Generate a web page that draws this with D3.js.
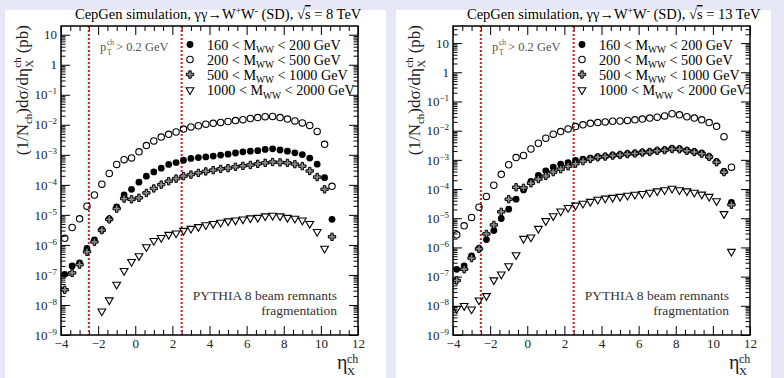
<!DOCTYPE html>
<html>
<head>
<meta charset="utf-8">
<script src="https://cdn.jsdelivr.net/npm/d3@7"></script>
<style>
  body { margin: 0; background: #e7e7f7; }
  svg { display: block; font-family: "Liberation Serif", "Times New Roman", serif; }
</style>
</head>
<body>
<svg id="chart" width="784" height="378"></svg>
<script>
// pseudorapidity bin centres
const eta = [-3.8,-3.4,-3.0,-2.6,-2.2,-1.8,-1.4,-1.0,-0.6,-0.2,0.2,0.6,1.0,1.4,1.8,2.2,2.6,3.0,3.4,3.8,4.2,4.6,5.0,5.4,5.8,6.2,6.6,7.0,7.4,7.8,8.2,8.6,9.0,9.4,9.8,10.2,10.6,11.0];

// sqrt(s) = 8 TeV
const m160_8 = [1.05e-7,2.0e-7,2.5e-7,7.6e-7,1.48e-6,3.2e-6,7.4e-6,1.86e-5,4.6e-5,7.1e-5,1.23e-4,1.95e-4,2.7e-4,3.6e-4,4.8e-4,5.5e-4,6.6e-4,7.6e-4,8.1e-4,8.5e-4,9.1e-4,9.8e-4,1.05e-3,1.15e-3,1.26e-3,1.32e-3,1.38e-3,1.51e-3,1.58e-3,1.45e-3,1.32e-3,1.17e-3,1.02e-3,7.8e-4,4.9e-4,1.74e-4,7.1e-6,null];
const m200_8 = [1.66e-6,3.8e-6,7.4e-6,1.95e-5,4.6e-5,1.05e-4,2.4e-4,4.8e-4,6.9e-4,7.9e-4,1.26e-3,2.04e-3,2.9e-3,3.9e-3,4.8e-3,5.75e-3,7.2e-3,8.5e-3,9.3e-3,1.05e-2,1.12e-2,1.2e-2,1.29e-2,1.38e-2,1.48e-2,1.62e-2,1.74e-2,1.86e-2,1.9e-2,1.74e-2,1.55e-2,1.35e-2,1.15e-2,9.5e-3,6.0e-3,2.24e-3,8.9e-5,null];
const m500_8 = [3.2e-8,1.17e-7,2.2e-7,5.9e-7,1.26e-6,3.1e-6,7.1e-6,1.62e-5,3.5e-5,3.3e-5,3.7e-5,5.4e-5,7.6e-5,1.02e-4,1.32e-4,1.62e-4,1.95e-4,2.2e-4,2.5e-4,2.8e-4,3.1e-4,3.4e-4,3.6e-4,4.0e-4,4.3e-4,4.6e-4,5.0e-4,5.4e-4,5.75e-4,5.6e-4,5.4e-4,4.9e-4,4.2e-4,2.9e-4,1.82e-4,7.1e-5,1.86e-6,null];
const m1000_8 = [null,null,null,null,null,6.2e-9,1.45e-8,4.8e-8,1.38e-7,2.75e-7,4.3e-7,8.5e-7,1.38e-6,1.74e-6,2.2e-6,2.45e-6,3.0e-6,3.5e-6,4.0e-6,4.6e-6,5.1e-6,5.6e-6,6.2e-6,6.6e-6,7.2e-6,7.8e-6,8.1e-6,9.1e-6,9.5e-6,9.1e-6,8.1e-6,7.6e-6,6.6e-6,5.1e-6,2.75e-6,7.6e-7,null,null];

// sqrt(s) = 13 TeV
const m160_13 = [1.78e-7,2.35e-7,5.1e-7,9.3e-7,1.86e-6,3.8e-6,9.8e-6,2.04e-5,4.5e-5,9.3e-5,1.82e-4,2.95e-4,4.2e-4,5.6e-4,7.1e-4,8.1e-4,9.5e-4,1.05e-3,1.15e-3,1.26e-3,1.32e-3,1.45e-3,1.51e-3,1.62e-3,1.7e-3,1.82e-3,1.9e-3,2.1e-3,2.2e-3,2.45e-3,2.35e-3,2.1e-3,1.9e-3,1.7e-3,1.29e-3,8.7e-4,4.0e-4,3.5e-5];
const m200_13 = [2.7e-6,5.5e-6,1.07e-5,2.4e-5,5.6e-5,1.35e-4,3.2e-4,6.8e-4,1.2e-3,1.41e-3,2.35e-3,3.7e-3,5.5e-3,7.6e-3,9.3e-3,1.15e-2,1.38e-2,1.58e-2,1.78e-2,1.9e-2,2.0e-2,2.1e-2,2.14e-2,2.24e-2,2.35e-2,2.5e-2,2.7e-2,2.9e-2,3.2e-2,3.8e-2,3.5e-2,3.0e-2,2.7e-2,2.35e-2,1.9e-2,1.41e-2,6.2e-3,5.6e-4];
const m500_13 = [7.4e-8,1.78e-7,4.3e-7,8.9e-7,2.9e-6,5.9e-6,1.66e-5,4.5e-5,1.15e-4,1.1e-4,1.58e-4,2.2e-4,2.8e-4,3.8e-4,4.8e-4,6.0e-4,7.4e-4,9.1e-4,1.07e-3,1.22e-3,1.3e-3,1.4e-3,1.48e-3,1.58e-3,1.66e-3,1.78e-3,1.86e-3,2.05e-3,2.15e-3,2.35e-3,2.3e-3,2.05e-3,1.85e-3,1.62e-3,1.26e-3,8.3e-4,3.8e-4,2.9e-5];
const m1000_13 = [7.9e-9,1.0e-8,7.6e-9,1.55e-8,2.2e-8,7.6e-8,1.2e-7,2.3e-7,5.5e-7,2.0e-6,2.24e-6,4.4e-6,8.1e-6,1.2e-5,1.74e-5,2.3e-5,2.75e-5,3.2e-5,3.7e-5,4.4e-5,4.8e-5,5.1e-5,5.5e-5,6.0e-5,6.5e-5,6.9e-5,7.6e-5,8.5e-5,9.3e-5,1.05e-4,9.3e-5,8.5e-5,7.6e-5,6.6e-5,5.5e-5,3.9e-5,1.41e-5,7.2e-7];

// legend / axis text
const massBins = [["160","200"],["200","500"],["500","1000"],["1000","2000"]];
const energies = ["8","13"];
const xTicks = [-4,-2,0,2,4,6,8,10,12];
const yDecades = [-9,-8,-7,-6,-5,-4,-3,-2,-1,0,1];
const etaCuts = [-2.5, 2.5];

const panels = [
  { dx: 0,   ymax: 19.5, energy: energies[0], series: [m160_8, m200_8, m500_8, m1000_8] },
  { dx: 392, ymax: 38.5, energy: energies[1], series: [m160_13, m200_13, m500_13, m1000_13] }
];

const svg = d3.select('#chart');
svg.append('rect').attr('x', 5).attr('y', 10).attr('width', 381).attr('height', 368).attr('fill', '#fff');
svg.append('rect').attr('x', 396).attr('y', 10).attr('width', 375).attr('height', 368).attr('fill', '#fff');

const L = 61, R = 358, T = 26, B = 335;
const serif = '"Liberation Serif","Times New Roman",serif';

// marker painters: filled circle, open circle, open cross, open down-triangle
const crossPath = d3.symbol(d3.symbolCross, 30)();
const triPath = d3.symbol(d3.symbolTriangle, 26)();
function marker(sel, kind) {
  if (kind === 0) sel.append('circle').attr('r', 3.4).attr('fill', '#000');
  else if (kind === 1) sel.append('circle').attr('r', 3.2).attr('fill', 'none').attr('stroke', '#000').attr('stroke-width', 1.1);
  else if (kind === 2) sel.append('path').attr('d', crossPath).attr('fill', '#8a8a8a').attr('stroke', '#000').attr('stroke-width', 1);
  else sel.append('path').attr('d', triPath).attr('transform', 'rotate(180)').attr('fill', 'none').attr('stroke', '#000').attr('stroke-width', 1.1);
}

panels.forEach(p => {
  const g = svg.append('g').attr('transform', `translate(${p.dx},0)`);
  const x = d3.scaleLinear().domain([-4, 12]).range([L, R]);
  const y = d3.scaleLog().domain([1e-9, p.ymax]).range([B, T]);

  // axes (ticks inside, on all four sides)
  const xMinor = d3.range(-4, 12.01, 0.5).filter(v => v % 2 !== 0);
  const yMajor = yDecades.map(e => Math.pow(10, e));
  const yMinor = [];
  yDecades.forEach(e => d3.range(2, 10).forEach(k => { const v = k * Math.pow(10, e); if (v < p.ymax) yMinor.push(v); }));

  const gx = g.append('g').attr('transform', `translate(0,${B})`)
    .call(d3.axisBottom(x).tickValues(xTicks).tickSize(-9).tickSizeOuter(0).tickPadding(3).tickFormat(d3.format('d')));
  g.append('g').attr('transform', `translate(0,${B})`)
    .call(d3.axisBottom(x).tickValues(xMinor).tickSize(-5).tickSizeOuter(0).tickFormat(''));
  g.append('g').attr('transform', `translate(0,${T})`)
    .call(d3.axisTop(x).tickValues(xTicks).tickSize(-9).tickSizeOuter(0).tickFormat(''));
  g.append('g').attr('transform', `translate(0,${T})`)
    .call(d3.axisTop(x).tickValues(xMinor).tickSize(-5).tickSizeOuter(0).tickFormat(''));

  const gy = g.append('g').attr('transform', `translate(${L},0)`)
    .call(d3.axisLeft(y).tickValues(yMajor).tickSize(-9).tickSizeOuter(0).tickPadding(4));
  g.append('g').attr('transform', `translate(${L},0)`)
    .call(d3.axisLeft(y).tickValues(yMinor).tickSize(-4.5).tickSizeOuter(0).tickFormat(''));
  g.append('g').attr('transform', `translate(${R},0)`)
    .call(d3.axisRight(y).tickValues(yMajor).tickSize(-9).tickSizeOuter(0).tickFormat(''));
  g.append('g').attr('transform', `translate(${R},0)`)
    .call(d3.axisRight(y).tickValues(yMinor).tickSize(-4.5).tickSizeOuter(0).tickFormat(''));

  g.selectAll('.domain').remove();
  g.selectAll('.tick line').attr('stroke', '#000').attr('stroke-width', 1);
  g.selectAll('.tick text').filter(function() { return !this.textContent; }).remove();
  g.selectAll('.tick text').attr('font-family', serif).attr('font-size', 13).attr('fill', '#222');
  gx.selectAll('.tick text').attr('dy', '0.8em');

  gy.selectAll('.tick text').each(function(d) {
    const e = Math.round(Math.log10(d));
    const t = d3.select(this).text(null);
    if (e === 0) t.text('1');
    else if (e === 1) t.text('10');
    else {
      t.text('10');
      t.append('tspan').attr('dy', -5).attr('font-size', 9).text('\u2212' + (-e));
    }
  });

  // eta acceptance lines
  g.selectAll('.cut').data(etaCuts).join('line').attr('class', 'cut')
    .attr('x1', d => x(d)).attr('x2', d => x(d)).attr('y1', T).attr('y2', B)
    .attr('stroke', '#e0151d').attr('stroke-width', 2).attr('stroke-dasharray', '2,2');

  // data points
  p.series.forEach((vals, k) => {
    const pts = eta.map((e, i) => ({ e, v: vals[i] })).filter(d => d.v != null);
    g.append('g').selectAll('g').data(pts).join('g')
      .attr('transform', d => `translate(${x(d.e)},${y(d.v)})`)
      .each(function() { marker(d3.select(this), k); });
  });

  // frame
  g.append('rect').attr('x', L).attr('y', T).attr('width', R - L).attr('height', B - T)
    .attr('fill', 'none').attr('stroke', '#000').attr('stroke-width', 1.5);

  // title
  const ti = g.append('text').attr('x', 75).attr('y', 19).attr('font-size', 14.5).attr('fill', '#000');
  ti.append('tspan').text('CepGen simulation, \u03b3\u03b3\u2192W');
  ti.append('tspan').attr('font-size', 9.5).attr('dy', -5).text('+');
  ti.append('tspan').attr('dy', 5).text('W');
  ti.append('tspan').attr('font-size', 9.5).attr('dy', -5).text('-');
  ti.append('tspan').attr('dy', 5).text(' (SD),   \u221a');
  ti.append('tspan').attr('text-decoration', 'overline').text('s');
  ti.append('tspan').text(` = ${p.energy} TeV`);

  // y title: (1/N_ch)dσ/dη^ch_X (pb), rotated, ending at the frame top
  const yg = g.append('g').attr('transform', 'translate(28,0) rotate(-90)')
    .attr('font-size', 17).attr('fill', '#222');
  const uEnd = -(T - 1);
  const pb = yg.append('text').attr('x', uEnd).attr('text-anchor', 'end').text('(pb)');
  const u0 = uEnd - pb.node().getComputedTextLength() - 4;
  const sup = yg.append('text').attr('x', u0).attr('y', -7).attr('text-anchor', 'end').attr('font-size', 11).text('ch');
  const wch = sup.node().getComputedTextLength();
  yg.append('text').attr('x', u0 - wch).attr('y', 5).attr('font-size', 11).text('X');
  const main = yg.append('text').attr('x', u0 - wch - 0.5).attr('text-anchor', 'end');
  main.append('tspan').text('(1/N');
  main.append('tspan').attr('font-size', 11).attr('dy', 4).text('ch');
  main.append('tspan').attr('dy', -4).text(')d\u03c3/d\u03b7');

  // x title
  g.append('text').attr('x', 337).attr('y', 369).attr('font-size', 20).attr('fill', '#222').text('\u03b7');
  g.append('text').attr('x', 347).attr('y', 362.5).attr('font-size', 12).attr('fill', '#222').text('ch');
  g.append('text').attr('x', 347).attr('y', 375).attr('font-size', 11).attr('fill', '#222').text('X');

  // pT cut label
  g.append('text').attr('x', 100).attr('y', 51).attr('font-size', 12.5).attr('fill', '#555').text('p');
  g.append('text').attr('x', 107).attr('y', 45).attr('font-size', 7.5).attr('fill', '#555').text('ch');
  g.append('text').attr('x', 107).attr('y', 55).attr('font-size', 7.5).attr('fill', '#555').text('T');
  g.append('text').attr('x', 116).attr('y', 51).attr('font-size', 12.5).attr('fill', '#555').text('> 0.2 GeV');

  // legend
  const rows = [44.5, 59.5, 74.5, 90];
  massBins.forEach((mb, k) => {
    const m = g.append('g').attr('transform', `translate(190,${rows[k]})`);
    marker(m, k);
    const t = g.append('text').attr('x', 207).attr('y', rows[k] + 5).attr('font-size', 14.2).attr('fill', '#000');
    t.append('tspan').text(`${mb[0]} < M`);
    t.append('tspan').attr('font-size', 9.5).attr('dy', 3.5).text('WW');
    t.append('tspan').attr('dy', -3.5).text(` < ${mb[1]} GeV`);
  });

  // generator note
  g.append('text').attr('x', 337).attr('y', 300).attr('text-anchor', 'end').attr('font-size', 13.5).attr('fill', '#333')
    .text('PYTHIA 8 beam remnants');
  g.append('text').attr('x', 337).attr('y', 315).attr('text-anchor', 'end').attr('font-size', 13.5).attr('fill', '#333')
    .text('fragmentation');
});
</script>
</body>
</html>
